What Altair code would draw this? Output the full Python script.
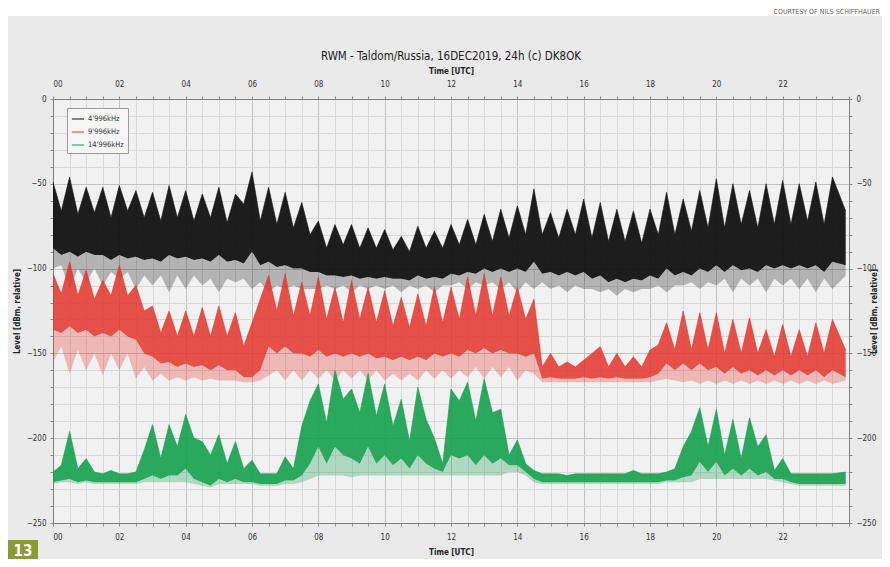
import altair as alt
import pandas as pd

# ---------------- data (15-minute steps) ----------------
T = [i * 0.25 for i in range(95)] + [23.9]

SERIES = ["4'996kHz", "9'996kHz", "14'996kHz"]
COLORS = ["#111111", "#e3342c", "#14a04c"]

BLACK_HI = [
    -49, -66, -46, -68, -52, -67, -52, -70,
    -51, -66, -54, -70, -55, -72, -51, -70,
    -54, -72, -56, -70, -52, -73, -56, -62,
    -43, -72, -52, -74, -55, -76, -61, -80,
    -72, -88, -74, -86, -74, -88, -76, -88,
    -77, -89, -81, -90, -75, -88, -78, -88,
    -74, -86, -71, -86, -68, -84, -65, -82,
    -63, -80, -53, -80, -67, -82, -65, -80,
    -59, -82, -61, -84, -65, -84, -66, -85,
    -65, -80, -55, -80, -59, -78, -54, -76,
    -47, -76, -50, -74, -54, -76, -50, -74,
    -48, -74, -50, -72, -49, -74, -46, -66,
]
BLACK_LO = [
    -88, -92, -90, -93, -90, -92, -92, -95,
    -92, -94, -93, -95, -94, -96, -92, -94,
    -93, -95, -94, -96, -92, -96, -95, -97,
    -90, -98, -96, -99, -98, -100, -100, -102,
    -102, -104, -104, -105, -104, -106, -105, -106,
    -105, -106, -106, -107, -104, -106, -105, -106,
    -103, -104, -102, -103, -100, -102, -100, -102,
    -100, -102, -96, -103, -102, -104, -102, -104,
    -102, -106, -104, -108, -106, -108, -106, -107,
    -104, -106, -100, -104, -102, -104, -100, -102,
    -98, -102, -98, -101, -100, -102, -98, -100,
    -98, -100, -98, -100, -98, -102, -96, -98,
]
BLACK_DIP = [
    -100, -98, -112, -100, -108, -100, -110, -102,
    -106, -102, -112, -104, -110, -104, -114, -104,
    -112, -104, -110, -106, -114, -106, -108, -106,
    -112, -108, -114, -110, -112, -110, -112, -112,
    -112, -110, -112, -110, -114, -110, -112, -110,
    -112, -110, -114, -110, -112, -110, -114, -110,
    -110, -108, -112, -108, -110, -108, -112, -108,
    -114, -108, -112, -108, -112, -110, -114, -110,
    -112, -112, -114, -112, -116, -112, -114, -112,
    -112, -110, -114, -110, -110, -108, -112, -108,
    -110, -106, -114, -106, -110, -106, -114, -106,
    -110, -106, -112, -106, -114, -106, -112, -104,
]

RED_HI = [
    -103, -115, -96, -116, -101, -118, -107, -116,
    -98, -116, -110, -125, -122, -138, -125, -140,
    -125, -140, -123, -140, -122, -140, -126, -146,
    -132, -118, -104, -125, -103, -128, -108, -128,
    -105, -130, -111, -132, -107, -130, -111, -132,
    -113, -134, -117, -135, -115, -134, -111, -132,
    -111, -130, -105, -128, -103, -128, -105, -128,
    -111, -130, -118, -158, -150, -158, -155, -158,
    -154, -150, -146, -158, -150, -158, -152, -158,
    -148, -145, -132, -148, -125, -148, -126, -148,
    -126, -150, -130, -150, -129, -150, -136, -152,
    -133, -152, -136, -152, -132, -150, -130, -148,
]
RED_LO = [
    -136, -138, -134, -138, -136, -140, -138, -140,
    -136, -140, -142, -150, -152, -156, -155, -158,
    -156, -158, -157, -160, -157, -160, -160, -164,
    -164, -160, -146, -150, -146, -150, -150, -152,
    -148, -152, -150, -152, -150, -152, -150, -153,
    -152, -154, -152, -154, -152, -154, -150, -152,
    -150, -152, -148, -150, -147, -150, -148, -150,
    -150, -152, -150, -165, -164, -165, -165, -165,
    -164, -165, -164, -165, -164, -165, -165, -165,
    -164, -162, -156, -160, -156, -160, -156, -160,
    -158, -162, -158, -162, -160, -163, -160, -163,
    -160, -163, -160, -163, -160, -164, -160, -164,
]
RED_DIP = [
    -155, -146, -162, -148, -160, -150, -163, -150,
    -160, -150, -165, -158, -166, -162, -166, -164,
    -166, -164, -166, -165, -166, -166, -166, -167,
    -167, -166, -163, -160, -166, -160, -166, -160,
    -165, -160, -166, -160, -165, -160, -166, -160,
    -166, -162, -166, -162, -166, -160, -165, -160,
    -165, -160, -164, -158, -165, -158, -164, -158,
    -166, -160, -162, -167, -167, -167, -167, -167,
    -167, -167, -167, -167, -167, -167, -167, -167,
    -167, -166, -165, -166, -167, -166, -168, -166,
    -168, -166, -168, -166, -168, -166, -168, -166,
    -168, -166, -168, -166, -168, -166, -168, -166,
]

GREEN_HI = [
    -220, -216, -196, -218, -212, -220, -221, -219,
    -221, -221, -220, -207, -192, -212, -192, -205,
    -186, -200, -202, -210, -198, -215, -202, -218,
    -213, -221, -221, -221, -211, -218, -193, -178,
    -168, -191, -160, -177, -171, -185, -162, -187,
    -168, -193, -177, -202, -170, -189, -200, -215,
    -171, -178, -167, -190, -165, -185, -183, -210,
    -201, -215, -219, -221, -221, -221, -222, -221,
    -221, -221, -221, -221, -221, -221, -219, -221,
    -221, -221, -220, -218, -205, -196, -182, -205,
    -183, -210, -189, -212, -188, -205, -198, -219,
    -212, -221, -221, -221, -221, -221, -221, -220,
]
GREEN_LO = [
    -226, -225, -224, -226, -225, -226, -226, -226,
    -226, -226, -226, -224, -222, -224, -222, -222,
    -218, -224, -226, -228, -224, -226, -224, -226,
    -226, -227, -227, -227, -225, -225, -222, -215,
    -205, -215, -205, -210, -212, -215, -205, -215,
    -210, -216, -212, -218, -210, -215, -218, -220,
    -210, -212, -210, -216, -210, -215, -212, -216,
    -216, -220, -224, -226, -226, -226, -226, -226,
    -226, -226, -226, -226, -226, -226, -226, -226,
    -226, -226, -225, -225, -223, -222, -214, -220,
    -214, -222, -218, -222, -218, -222, -220, -224,
    -224, -226, -227, -227, -227, -227, -227, -227,
]
GREEN_DIP = [
    -227, -226, -226, -227, -226, -227, -227, -227,
    -227, -227, -227, -226, -226, -226, -226, -226,
    -226, -227, -228, -229, -227, -227, -227, -227,
    -227, -228, -228, -228, -227, -227, -226, -224,
    -222, -222, -222, -222, -223, -222, -222, -222,
    -222, -222, -222, -222, -222, -222, -222, -222,
    -222, -222, -222, -222, -222, -222, -222, -220,
    -220, -222, -226, -227, -227, -227, -227, -227,
    -227, -227, -227, -227, -227, -227, -227, -227,
    -227, -227, -226, -226, -226, -226, -224, -224,
    -224, -224, -224, -224, -224, -224, -224, -225,
    -226, -227, -228, -228, -228, -228, -228, -228,
]

X_TICKS = [i * 0.5 for i in range(49)]
Y_TICKS = [-250 + 10 * i for i in range(26)]

TITLE = "RWM - Taldom/Russia, 16DEC2019, 24h (c) DK8OK"
X_TITLE = "Time [UTC]"
Y_TITLE = "Level [dBm, relative]"
CREDIT = "COURTESY OF NILS SCHIFFHAUER"
BADGE = "13"

# ---------------- build ----------------
FONT = "DejaVu Sans Condensed, Liberation Sans Narrow, sans-serif"


def frame(name, hi, lo, dip):
    return pd.DataFrame({"t": T, "hi": hi, "lo": lo, "dip": dip, "series": name})


dfs = [
    frame(SERIES[0], BLACK_HI, BLACK_LO, BLACK_DIP),
    frame(SERIES[1], RED_HI, RED_LO, RED_DIP),
    frame(SERIES[2], GREEN_HI, GREEN_LO, GREEN_DIP),
]
all_df = pd.concat(dfs, ignore_index=True)

xs = alt.Scale(domain=[0, 24], nice=False, zero=False)
ys = alt.Scale(domain=[-250, 0], nice=False, zero=False)

x_lab = "datum.value % 2 == 0 && datum.value < 24 ? (datum.value < 10 ? '0' + datum.value : '' + datum.value) : ''"
y_lab = "datum.value % 50 == 0 ? format(datum.value, 'd') : ''"

common = dict(
    labelFont=FONT, labelFontSize=8, labelColor="#333333",
    titleFont=FONT, titleFontSize=8, titleFontWeight="bold", titleColor="#222222",
    domainColor="#808080", tickColor="#8a8a8a", tickSize=3,
    labelOverlap=False,
)
xgrid = {"condition": {"test": "datum.value % 2 == 0", "value": "#c2c2c2"}, "value": "#d9d9d9"}
ygrid = {"condition": {"test": "datum.value % 50 == 0", "value": "#c2c2c2"}, "value": "#d9d9d9"}

x_bottom = alt.Axis(orient="bottom", values=X_TICKS, labelExpr=x_lab, title=X_TITLE,
                    grid=True, gridColor=xgrid, labelPadding=7, titlePadding=7, **common)
x_top = alt.Axis(orient="top", values=X_TICKS, labelExpr=x_lab, title=X_TITLE,
                 grid=False, labelPadding=8, titlePadding=5, **common)
y_left = alt.Axis(orient="left", values=Y_TICKS, labelExpr=y_lab, title=Y_TITLE,
                  grid=True, gridColor=ygrid, labelPadding=4, titlePadding=5, **common)
y_right = alt.Axis(orient="right", values=Y_TICKS, labelExpr=y_lab, title=Y_TITLE,
                   grid=False, labelPadding=4, titlePadding=3, titleAngle=270, **common)

layers = []
opac = [(0.28, 0.95), (0.3, 0.85), (0.3, 0.9)]
for df, col, (so, co) in zip(dfs, COLORS, opac):
    layers.append(
        alt.Chart(df).mark_area(color=col, opacity=so).encode(
            x=alt.X("t:Q", scale=xs, axis=None),
            y=alt.Y("lo:Q", scale=ys, axis=None),
            y2="dip:Q",
        )
    )
    layers.append(
        alt.Chart(df).mark_area(color=col, opacity=co).encode(
            x=alt.X("t:Q", scale=xs, axis=None),
            y=alt.Y("hi:Q", scale=ys, axis=None),
            y2="lo:Q",
        )
    )

legend_layer = alt.Chart(all_df).mark_line(strokeWidth=0.6).encode(
    x=alt.X("t:Q", scale=xs, axis=x_bottom),
    y=alt.Y("hi:Q", scale=ys, axis=y_left),
    color=alt.Color(
        "series:N",
        scale=alt.Scale(domain=SERIES, range=COLORS),
        legend=alt.Legend(
            title=None, orient="none", legendX=14, legendY=9,
            symbolType="stroke", symbolSize=150, symbolStrokeWidth=1,
            labelFont=FONT, labelFontSize=7.5, labelColor="#333333",
            strokeColor="#9a9a9a", fillColor="#f6f6f6", padding=4,
            rowPadding=2, labelOffset=3,
        ),
    ),
    detail="series:N",
)

axes_tr = alt.Chart(all_df).mark_line(strokeOpacity=0).encode(
    x=alt.X("t:Q", scale=xs, axis=x_top),
    y=alt.Y("hi:Q", scale=ys, axis=y_right),
    detail="series:N",
)

one = pd.DataFrame({"v": [0]})
top_band = alt.Chart(one).mark_rect(color="white").encode(
    x=alt.value(-45), x2=alt.value(829), y=alt.value(-91), y2=alt.value(-83)
)
credit = alt.Chart(one).mark_text(
    text=CREDIT, align="right", baseline="middle", font=FONT, fontSize=7, color="#666666"
).encode(x=alt.value(827), y=alt.value(-87))
title_txt = alt.Chart(one).mark_text(
    text=TITLE, align="center", baseline="middle", font=FONT, fontSize=11.5,
    color="#1a1a1a"
).encode(x=alt.value(398), y=alt.value(-42))
badge = alt.Chart(one).mark_rect(color="#8b9a32").encode(
    x=alt.value(-45), x2=alt.value(-15), y=alt.value(441), y2=alt.value(462)
)
badge_txt = alt.Chart(one).mark_text(
    text=BADGE, align="center", baseline="middle", font=FONT, fontSize=15,
    fontWeight="bold", color="white"
).encode(x=alt.value(-30), y=alt.value(452))

chart = (
    alt.layer(*layers, legend_layer, axes_tr, top_band, credit, title_txt, badge, badge_txt)
    .resolve_axis(x="independent", y="independent")
    .properties(
        width=796,
        height=424,
        padding={"left": 45, "top": 91, "right": 33, "bottom": 36},
        autosize=alt.AutoSizeParams(type="none"),
        background="#eaeaea",
    )
    .configure_view(fill="#f1f1f1", stroke="#8a8a8a")
)

chart.save("out.html", embed_options={"renderer": "svg", "actions": False})
